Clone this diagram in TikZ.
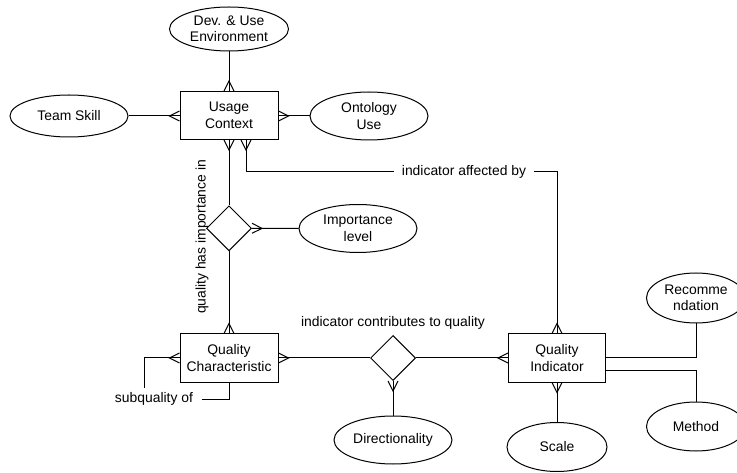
\documentclass[tikz,border=0pt]{standalone}
\usepackage{fontspec}
\setmainfont{Liberation Sans}
\usetikzlibrary{shapes.geometric}
\pgfdeclarearrow{
  name = Crow,
  setup code = {
    \pgfarrowssettipend{0pt}
    \pgfarrowssetlineend{0pt}
    \pgfarrowssetbackend{-10pt}
    \pgfarrowshullpoint{0pt}{5pt}
    \pgfarrowshullpoint{0pt}{-5pt}
    \pgfarrowshullpoint{-10pt}{0pt}
  },
  drawing code = {
    \pgfsetdash{}{0pt}
    \pgfpathmoveto{\pgfpoint{0pt}{5pt}}
    \pgfpathlineto{\pgfpoint{-10pt}{0pt}}
    \pgfpathlineto{\pgfpoint{0pt}{-5pt}}
    \pgfusepathqstroke
  }
}
\begin{document}
\begin{tikzpicture}[x=1pt,y=-1pt,line width=1pt,
  font=\fontsize{13.9}{16.5}\selectfont,
  ent/.style={draw, minimum width=98pt, minimum height=48pt, inner sep=0pt, align=center},
  attr/.style={draw, ellipse, inner sep=-12pt, align=center},
  rel/.style={draw, diamond, minimum width=45pt, minimum height=45pt, inner sep=0pt},
  lbl/.style={inner sep=0pt, align=center}]
\useasboundingbox (0,0) rectangle (737,473);

% entities
\node[ent] (uc) at (229,115.5) {Usage\\Context};
\node[ent] (qc) at (229,358) {Quality\\Characteristic};
\node[ent, minimum width=97pt] (qi) at (557,358) {Quality\\Indicator};

% attributes
\node[attr, minimum width=119pt, minimum height=44pt] (dev) at (229,29) {Dev. \& Use\\Environment};
\node[attr, minimum width=118pt, minimum height=42pt] (team) at (69,116) {Team Skill};
\node[attr, minimum width=118pt, minimum height=48pt] (onto) at (369,116) {Ontology\\Use};
\node[attr, minimum width=118pt, minimum height=48pt] (imp) at (358,228.5) {Importance\\level};
\node[attr, minimum width=118pt, minimum height=48pt] (dirn) at (393,440) {Directionality};
\node[attr, minimum width=100pt, minimum height=49pt] (scale) at (557,447) {Scale};
\node[attr, minimum width=99pt, minimum height=50pt] (rec) at (696,298) {Recomme\\ndation};
\node[attr, minimum width=99pt, minimum height=49pt] (meth) at (696,426.5) {Method};

% relationships
\node[rel] (d1) at (229,228.3) {};
\node[rel] (d2) at (393,358) {};

% labels
\node[lbl, rotate=90] (implbl) at (202,237) {quality has importance in};
\node[lbl, inner xsep=7pt] (aff) at (464,172) {indicator affected by};
\node[lbl] (contr) at (393,323) {indicator contributes to quality};
\node[lbl, inner xsep=8pt] (sub) at (154,399) {subquality of};
\coordinate (sqend) at (144,388);

% connectors
\draw[-Crow] (dev.south) -- (uc.north);
\draw[-Crow] (team.east) -- (uc.west |- team.east);
\draw[-Crow] (onto.west) -- (uc.east |- onto.west);
\draw[Crow-] (uc.south) -- (d1.north);
\draw[-Crow] (d1.south) -- (qc.north);
\draw[Crow-] (d1.east) -- (imp.west);
\draw[Crow-] ([xshift=17pt]uc.south) |- (aff.west);
\draw[-Crow] (aff.east) -| (qi.north);
\draw[Crow-] (qc.east) -- (d2.west);
\draw[-Crow] (d2.east) -- (qi.west);
\draw[Crow-] (d2.south) -- (dirn.north);
\draw[Crow-] (qi.south) -- (scale.north);
\draw (qi.east) -| (rec.south);
\draw ([yshift=-12pt]qi.east) -| (meth.north);
\draw[Crow-] (qc.west) -| (sqend);
\draw (sub.east) -| (qc.south);
\end{tikzpicture}
\end{document}
